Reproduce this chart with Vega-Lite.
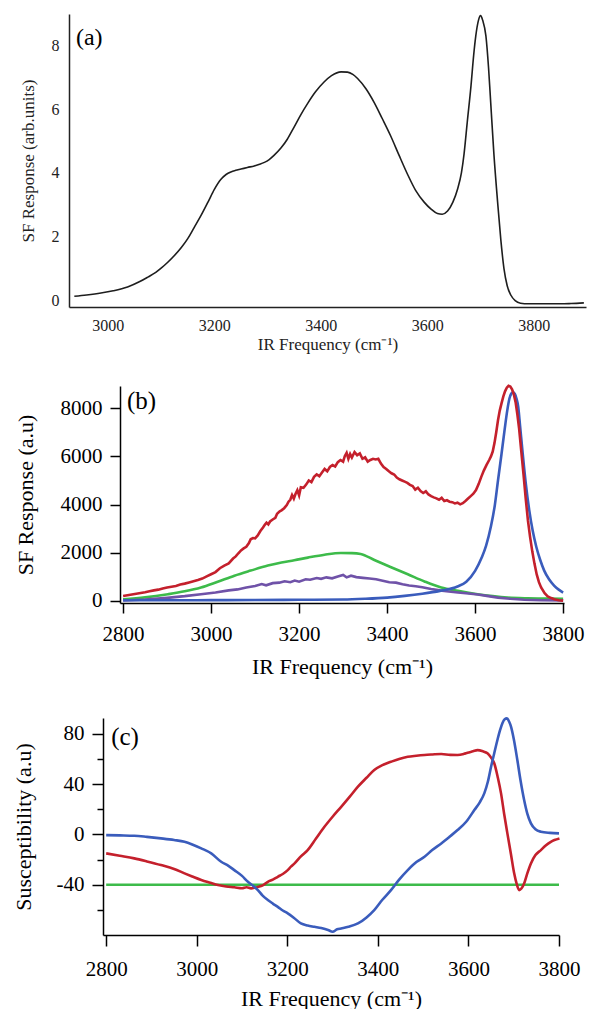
{
  "$schema": "https://vega.github.io/schema/vega-lite/v6.json",
  "padding": {"left": 0, "top": 12, "right": 0, "bottom": 0},
  "config": {
    "font": "Liberation Serif",
    "view": {"stroke": null},
    "axis": {"grid": false, "labelColor": "#000", "titleColor": "#000", "domainColor": "#000", "tickColor": "#000", "titleFontWeight": "normal", "labelFont": "Liberation Serif", "titleFont": "Liberation Serif", "domainWidth": 1.5, "tickWidth": 1.5, "labelFlush": false, "labelOverlap": false}
  },
  "datasets": {
    "a": [
      {"x": 2937, "y": 0.12}, {"x": 2960, "y": 0.16}, {"x": 2987, "y": 0.22}, {"x": 3010, "y": 0.29}, {"x": 3037, "y": 0.41}, {"x": 3060, "y": 0.58}, {"x": 3075, "y": 0.72}, {"x": 3090, "y": 0.87}, {"x": 3100, "y": 1.0}, {"x": 3112, "y": 1.18}, {"x": 3125, "y": 1.4}, {"x": 3138, "y": 1.65}, {"x": 3150, "y": 1.93}, {"x": 3162, "y": 2.28}, {"x": 3175, "y": 2.66}, {"x": 3188, "y": 3.08}, {"x": 3200, "y": 3.48}, {"x": 3212, "y": 3.79}, {"x": 3222, "y": 3.95}, {"x": 3231, "y": 4.03}, {"x": 3240, "y": 4.08}, {"x": 3250, "y": 4.12}, {"x": 3262, "y": 4.17}, {"x": 3275, "y": 4.22}, {"x": 3285, "y": 4.27}, {"x": 3294, "y": 4.33}, {"x": 3303, "y": 4.42}, {"x": 3312, "y": 4.55}, {"x": 3325, "y": 4.78}, {"x": 3337, "y": 5.06}, {"x": 3350, "y": 5.45}, {"x": 3362, "y": 5.82}, {"x": 3375, "y": 6.18}, {"x": 3390, "y": 6.55}, {"x": 3406, "y": 6.86}, {"x": 3420, "y": 7.06}, {"x": 3438, "y": 7.18}, {"x": 3450, "y": 7.17}, {"x": 3460, "y": 7.1}, {"x": 3469, "y": 6.97}, {"x": 3485, "y": 6.64}, {"x": 3500, "y": 6.22}, {"x": 3515, "y": 5.72}, {"x": 3531, "y": 5.17}, {"x": 3547, "y": 4.55}, {"x": 3563, "y": 3.95}, {"x": 3578, "y": 3.45}, {"x": 3594, "y": 3.08}, {"x": 3607, "y": 2.86}, {"x": 3619, "y": 2.72}, {"x": 3628, "y": 2.7}, {"x": 3638, "y": 2.8}, {"x": 3648, "y": 3.08}, {"x": 3657, "y": 3.5}, {"x": 3664, "y": 4.0}, {"x": 3669, "y": 4.6}, {"x": 3675, "y": 5.6}, {"x": 3682, "y": 6.74}, {"x": 3687, "y": 7.7}, {"x": 3691, "y": 8.31}, {"x": 3696, "y": 8.8}, {"x": 3700, "y": 8.95}, {"x": 3704, "y": 8.8}, {"x": 3710, "y": 8.31}, {"x": 3715, "y": 7.3}, {"x": 3719, "y": 6.22}, {"x": 3725, "y": 4.6}, {"x": 3732, "y": 3.08}, {"x": 3738, "y": 1.9}, {"x": 3744, "y": 0.98}, {"x": 3750, "y": 0.45}, {"x": 3757, "y": 0.15}, {"x": 3765, "y": -0.02}, {"x": 3775, "y": -0.1}, {"x": 3790, "y": -0.12}, {"x": 3820, "y": -0.12}, {"x": 3850, "y": -0.12}, {"x": 3870, "y": -0.11}, {"x": 3894, "y": -0.09}
    ],
    "b_red": [
      {"x": 2800, "y": 210}, {"x": 2810, "y": 240}, {"x": 2820, "y": 270}, {"x": 2830, "y": 300}, {"x": 2840, "y": 330}, {"x": 2850, "y": 360}, {"x": 2860, "y": 400}, {"x": 2870, "y": 440}, {"x": 2880, "y": 470}, {"x": 2890, "y": 520}, {"x": 2900, "y": 560}, {"x": 2910, "y": 590}, {"x": 2920, "y": 620}, {"x": 2930, "y": 680}, {"x": 2940, "y": 720}, {"x": 2950, "y": 770}, {"x": 2960, "y": 820}, {"x": 2970, "y": 870}, {"x": 2980, "y": 930}, {"x": 2990, "y": 1020}, {"x": 3000, "y": 1110}, {"x": 3010, "y": 1200}, {"x": 3020, "y": 1360}, {"x": 3030, "y": 1470}, {"x": 3040, "y": 1560}, {"x": 3050, "y": 1760}, {"x": 3056, "y": 1850}, {"x": 3062, "y": 1980}, {"x": 3068, "y": 2100}, {"x": 3074, "y": 2180}, {"x": 3080, "y": 2250}, {"x": 3086, "y": 2400}, {"x": 3090, "y": 2560}, {"x": 3095, "y": 2610}, {"x": 3100, "y": 2600}, {"x": 3106, "y": 2720}, {"x": 3112, "y": 2900}, {"x": 3118, "y": 3050}, {"x": 3122, "y": 3160}, {"x": 3126, "y": 3250}, {"x": 3130, "y": 3180}, {"x": 3134, "y": 3300}, {"x": 3140, "y": 3380}, {"x": 3146, "y": 3450}, {"x": 3150, "y": 3620}, {"x": 3156, "y": 3720}, {"x": 3160, "y": 3760}, {"x": 3166, "y": 3850}, {"x": 3172, "y": 3980}, {"x": 3176, "y": 4120}, {"x": 3180, "y": 4200}, {"x": 3184, "y": 4400}, {"x": 3188, "y": 4250}, {"x": 3192, "y": 4450}, {"x": 3196, "y": 4600}, {"x": 3200, "y": 4380}, {"x": 3204, "y": 4720}, {"x": 3210, "y": 4700}, {"x": 3216, "y": 4830}, {"x": 3222, "y": 5000}, {"x": 3228, "y": 4930}, {"x": 3234, "y": 5150}, {"x": 3240, "y": 5250}, {"x": 3246, "y": 5180}, {"x": 3252, "y": 5330}, {"x": 3258, "y": 5480}, {"x": 3264, "y": 5380}, {"x": 3270, "y": 5560}, {"x": 3276, "y": 5640}, {"x": 3282, "y": 5580}, {"x": 3288, "y": 5760}, {"x": 3294, "y": 5850}, {"x": 3300, "y": 5780}, {"x": 3304, "y": 6020}, {"x": 3308, "y": 6150}, {"x": 3312, "y": 5900}, {"x": 3316, "y": 6100}, {"x": 3320, "y": 5950}, {"x": 3326, "y": 6180}, {"x": 3332, "y": 6050}, {"x": 3338, "y": 6120}, {"x": 3344, "y": 5900}, {"x": 3350, "y": 5960}, {"x": 3356, "y": 5780}, {"x": 3362, "y": 5850}, {"x": 3368, "y": 5900}, {"x": 3374, "y": 5870}, {"x": 3380, "y": 5900}, {"x": 3386, "y": 5700}, {"x": 3392, "y": 5560}, {"x": 3398, "y": 5480}, {"x": 3404, "y": 5380}, {"x": 3410, "y": 5300}, {"x": 3416, "y": 5250}, {"x": 3422, "y": 5120}, {"x": 3428, "y": 5050}, {"x": 3434, "y": 5000}, {"x": 3440, "y": 4950}, {"x": 3446, "y": 4900}, {"x": 3452, "y": 4820}, {"x": 3458, "y": 4770}, {"x": 3464, "y": 4620}, {"x": 3470, "y": 4700}, {"x": 3476, "y": 4560}, {"x": 3482, "y": 4480}, {"x": 3488, "y": 4550}, {"x": 3494, "y": 4420}, {"x": 3500, "y": 4350}, {"x": 3506, "y": 4300}, {"x": 3512, "y": 4260}, {"x": 3518, "y": 4200}, {"x": 3524, "y": 4280}, {"x": 3530, "y": 4150}, {"x": 3536, "y": 4180}, {"x": 3542, "y": 4120}, {"x": 3548, "y": 4100}, {"x": 3554, "y": 4050}, {"x": 3560, "y": 4080}, {"x": 3566, "y": 4010}, {"x": 3572, "y": 4060}, {"x": 3578, "y": 4150}, {"x": 3584, "y": 4250}, {"x": 3590, "y": 4350}, {"x": 3596, "y": 4450}, {"x": 3602, "y": 4600}, {"x": 3608, "y": 4850}, {"x": 3614, "y": 5150}, {"x": 3620, "y": 5420}, {"x": 3626, "y": 5650}, {"x": 3632, "y": 5850}, {"x": 3636, "y": 6000}, {"x": 3640, "y": 6200}, {"x": 3644, "y": 6550}, {"x": 3648, "y": 7000}, {"x": 3652, "y": 7500}, {"x": 3656, "y": 7900}, {"x": 3660, "y": 8200}, {"x": 3664, "y": 8480}, {"x": 3668, "y": 8700}, {"x": 3672, "y": 8850}, {"x": 3676, "y": 8930}, {"x": 3680, "y": 8900}, {"x": 3684, "y": 8780}, {"x": 3688, "y": 8570}, {"x": 3692, "y": 8250}, {"x": 3696, "y": 7750}, {"x": 3700, "y": 7150}, {"x": 3705, "y": 6200}, {"x": 3710, "y": 5250}, {"x": 3715, "y": 4250}, {"x": 3720, "y": 3350}, {"x": 3725, "y": 2650}, {"x": 3730, "y": 2050}, {"x": 3735, "y": 1540}, {"x": 3740, "y": 1100}, {"x": 3745, "y": 780}, {"x": 3750, "y": 560}, {"x": 3758, "y": 320}, {"x": 3765, "y": 190}, {"x": 3773, "y": 120}, {"x": 3780, "y": 70}, {"x": 3790, "y": 30}, {"x": 3800, "y": 15}
    ],
    "b_blue": [
      {"x": 2800, "y": 30}, {"x": 2900, "y": 30}, {"x": 3000, "y": 35}, {"x": 3100, "y": 40}, {"x": 3200, "y": 50}, {"x": 3300, "y": 60}, {"x": 3350, "y": 90}, {"x": 3400, "y": 140}, {"x": 3440, "y": 210}, {"x": 3480, "y": 300}, {"x": 3520, "y": 420}, {"x": 3560, "y": 600}, {"x": 3580, "y": 800}, {"x": 3600, "y": 1250}, {"x": 3615, "y": 1800}, {"x": 3625, "y": 2300}, {"x": 3636, "y": 3100}, {"x": 3645, "y": 4000}, {"x": 3652, "y": 5000}, {"x": 3660, "y": 6100}, {"x": 3667, "y": 7100}, {"x": 3673, "y": 7900}, {"x": 3678, "y": 8400}, {"x": 3682, "y": 8600}, {"x": 3686, "y": 8660}, {"x": 3690, "y": 8600}, {"x": 3694, "y": 8400}, {"x": 3698, "y": 8050}, {"x": 3702, "y": 7300}, {"x": 3708, "y": 6150}, {"x": 3715, "y": 4900}, {"x": 3723, "y": 3770}, {"x": 3731, "y": 2900}, {"x": 3739, "y": 2250}, {"x": 3748, "y": 1700}, {"x": 3757, "y": 1260}, {"x": 3768, "y": 900}, {"x": 3780, "y": 630}, {"x": 3790, "y": 470}, {"x": 3800, "y": 350}
    ],
    "b_green": [
      {"x": 2800, "y": 70}, {"x": 2850, "y": 150}, {"x": 2902, "y": 280}, {"x": 2940, "y": 400}, {"x": 2977, "y": 560}, {"x": 3015, "y": 800}, {"x": 3053, "y": 1050}, {"x": 3090, "y": 1260}, {"x": 3129, "y": 1470}, {"x": 3160, "y": 1600}, {"x": 3189, "y": 1690}, {"x": 3220, "y": 1800}, {"x": 3258, "y": 1920}, {"x": 3295, "y": 1990}, {"x": 3320, "y": 1985}, {"x": 3340, "y": 1950}, {"x": 3371, "y": 1700}, {"x": 3409, "y": 1400}, {"x": 3447, "y": 1110}, {"x": 3485, "y": 810}, {"x": 3523, "y": 560}, {"x": 3561, "y": 420}, {"x": 3606, "y": 280}, {"x": 3640, "y": 200}, {"x": 3674, "y": 140}, {"x": 3720, "y": 110}, {"x": 3760, "y": 100}, {"x": 3800, "y": 95}
    ],
    "b_purple": [
      {"x": 2800, "y": 20}, {"x": 2850, "y": 60}, {"x": 2900, "y": 130}, {"x": 2940, "y": 200}, {"x": 2977, "y": 280}, {"x": 3010, "y": 350}, {"x": 3040, "y": 440}, {"x": 3060, "y": 480}, {"x": 3080, "y": 560}, {"x": 3100, "y": 620}, {"x": 3115, "y": 700}, {"x": 3125, "y": 650}, {"x": 3140, "y": 740}, {"x": 3155, "y": 760}, {"x": 3167, "y": 820}, {"x": 3180, "y": 780}, {"x": 3190, "y": 850}, {"x": 3200, "y": 800}, {"x": 3215, "y": 900}, {"x": 3225, "y": 880}, {"x": 3240, "y": 950}, {"x": 3250, "y": 920}, {"x": 3262, "y": 980}, {"x": 3275, "y": 940}, {"x": 3288, "y": 1020}, {"x": 3300, "y": 1080}, {"x": 3308, "y": 980}, {"x": 3318, "y": 1050}, {"x": 3330, "y": 990}, {"x": 3345, "y": 960}, {"x": 3360, "y": 930}, {"x": 3375, "y": 900}, {"x": 3390, "y": 840}, {"x": 3405, "y": 780}, {"x": 3420, "y": 760}, {"x": 3435, "y": 690}, {"x": 3450, "y": 640}, {"x": 3465, "y": 610}, {"x": 3480, "y": 570}, {"x": 3500, "y": 500}, {"x": 3520, "y": 440}, {"x": 3540, "y": 390}, {"x": 3561, "y": 350}, {"x": 3585, "y": 310}, {"x": 3606, "y": 270}, {"x": 3630, "y": 200}, {"x": 3652, "y": 140}, {"x": 3680, "y": 90}, {"x": 3712, "y": 50}, {"x": 3750, "y": 30}, {"x": 3800, "y": 25}
    ],
    "c_blue": [
      {"x": 2800, "y": -0.6}, {"x": 2830, "y": -0.8}, {"x": 2862, "y": -1.1}, {"x": 2890, "y": -2.0}, {"x": 2921, "y": -3.2}, {"x": 2950, "y": -4.5}, {"x": 2973, "y": -5.9}, {"x": 2990, "y": -8.0}, {"x": 3010, "y": -11.1}, {"x": 3032, "y": -15.1}, {"x": 3054, "y": -21.8}, {"x": 3070, "y": -25.0}, {"x": 3083, "y": -28.4}, {"x": 3100, "y": -33.0}, {"x": 3113, "y": -37.7}, {"x": 3125, "y": -41.0}, {"x": 3135, "y": -44.3}, {"x": 3145, "y": -48.5}, {"x": 3157, "y": -52.2}, {"x": 3168, "y": -55.0}, {"x": 3179, "y": -57.6}, {"x": 3190, "y": -60.5}, {"x": 3201, "y": -62.8}, {"x": 3215, "y": -66.5}, {"x": 3230, "y": -70.8}, {"x": 3245, "y": -72.5}, {"x": 3260, "y": -73.5}, {"x": 3275, "y": -74.5}, {"x": 3290, "y": -76.0}, {"x": 3300, "y": -77.4}, {"x": 3310, "y": -75.5}, {"x": 3319, "y": -74.8}, {"x": 3335, "y": -73.5}, {"x": 3356, "y": -70.8}, {"x": 3375, "y": -66.0}, {"x": 3392, "y": -60.2}, {"x": 3410, "y": -52.0}, {"x": 3429, "y": -44.3}, {"x": 3447, "y": -36.0}, {"x": 3466, "y": -28.4}, {"x": 3485, "y": -22.0}, {"x": 3503, "y": -17.8}, {"x": 3520, "y": -12.5}, {"x": 3540, "y": -7.2}, {"x": 3558, "y": -2.0}, {"x": 3576, "y": 3.4}, {"x": 3595, "y": 10.0}, {"x": 3613, "y": 19.3}, {"x": 3625, "y": 25.5}, {"x": 3635, "y": 32.6}, {"x": 3643, "y": 42.0}, {"x": 3650, "y": 53.8}, {"x": 3657, "y": 64.5}, {"x": 3664, "y": 75.0}, {"x": 3670, "y": 83.0}, {"x": 3675, "y": 88.3}, {"x": 3680, "y": 91.5}, {"x": 3685, "y": 92.2}, {"x": 3690, "y": 89.5}, {"x": 3694, "y": 85.6}, {"x": 3700, "y": 76.0}, {"x": 3708, "y": 59.1}, {"x": 3715, "y": 43.0}, {"x": 3723, "y": 27.3}, {"x": 3730, "y": 16.5}, {"x": 3738, "y": 8.7}, {"x": 3748, "y": 4.0}, {"x": 3760, "y": 2.1}, {"x": 3780, "y": 1.2}, {"x": 3800, "y": 0.8}
    ],
    "c_red": [
      {"x": 2800, "y": -15.1}, {"x": 2830, "y": -17.0}, {"x": 2862, "y": -19.1}, {"x": 2890, "y": -21.5}, {"x": 2921, "y": -24.4}, {"x": 2950, "y": -27.5}, {"x": 2973, "y": -31.0}, {"x": 2990, "y": -33.5}, {"x": 3010, "y": -36.3}, {"x": 3030, "y": -38.5}, {"x": 3047, "y": -40.3}, {"x": 3065, "y": -41.5}, {"x": 3083, "y": -42.1}, {"x": 3100, "y": -42.8}, {"x": 3110, "y": -42.0}, {"x": 3120, "y": -42.9}, {"x": 3130, "y": -42.2}, {"x": 3142, "y": -41.1}, {"x": 3150, "y": -39.5}, {"x": 3157, "y": -37.7}, {"x": 3168, "y": -36.0}, {"x": 3179, "y": -33.7}, {"x": 3190, "y": -31.5}, {"x": 3201, "y": -28.4}, {"x": 3208, "y": -25.7}, {"x": 3216, "y": -23.1}, {"x": 3230, "y": -17.5}, {"x": 3245, "y": -12.5}, {"x": 3263, "y": -3.5}, {"x": 3282, "y": 6.0}, {"x": 3300, "y": 14.0}, {"x": 3319, "y": 21.9}, {"x": 3338, "y": 30.0}, {"x": 3356, "y": 37.9}, {"x": 3375, "y": 45.0}, {"x": 3392, "y": 51.1}, {"x": 3410, "y": 55.0}, {"x": 3429, "y": 57.7}, {"x": 3447, "y": 60.0}, {"x": 3466, "y": 61.7}, {"x": 3485, "y": 62.5}, {"x": 3503, "y": 63.1}, {"x": 3520, "y": 63.5}, {"x": 3540, "y": 63.9}, {"x": 3560, "y": 63.2}, {"x": 3576, "y": 63.1}, {"x": 3590, "y": 64.0}, {"x": 3598, "y": 64.9}, {"x": 3610, "y": 66.0}, {"x": 3620, "y": 67.0}, {"x": 3632, "y": 66.0}, {"x": 3642, "y": 64.4}, {"x": 3650, "y": 61.0}, {"x": 3657, "y": 56.5}, {"x": 3665, "y": 45.0}, {"x": 3672, "y": 32.6}, {"x": 3679, "y": 16.0}, {"x": 3686, "y": 0.8}, {"x": 3694, "y": -16.0}, {"x": 3701, "y": -31.0}, {"x": 3707, "y": -40.0}, {"x": 3712, "y": -44.3}, {"x": 3717, "y": -43.0}, {"x": 3723, "y": -39.0}, {"x": 3730, "y": -31.0}, {"x": 3738, "y": -23.1}, {"x": 3748, "y": -16.5}, {"x": 3760, "y": -12.5}, {"x": 3770, "y": -9.0}, {"x": 3782, "y": -5.9}, {"x": 3790, "y": -4.5}, {"x": 3801, "y": -3.2}
    ],
    "c_green": [{"x": 2800, "y": -40}, {"x": 3800, "y": -40}],
    "lab_a": [{"x": 2940, "y": 8.26, "t": "(a)"}],
    "lab_b": [{"x": 2809, "y": 8293, "t": "(b)"}],
    "lab_c": [{"x": 2811, "y": 77.4, "t": "(c)"}],
    "none": []
  },
  "spacing": 28,
  "vconcat": [
    {
      "spacing": 0,
      "hconcat": [
        {"width": 19, "height": 1, "data": {"name": "none"}, "mark": "point"},
        {
          "width": 517,
          "height": 293,
          "encoding": {
            "x": {"field": "x", "type": "quantitative", "scale": {"domain": [2927, 3898], "nice": false, "zero": false},
              "axis": {"title": "IR Frequency (cm⁻¹)", "values": [3000, 3200, 3400, 3600, 3800], "format": "d", "ticks": false, "labelPadding": 10, "labelFontSize": 16, "titleFontSize": 17, "titlePadding": 3, "labelFont": "Liberation Serif", "titleFont": "Liberation Serif", "domainColor": "#222", "labelColor": "#222", "titleColor": "#222"}},
            "y": {"field": "y", "type": "quantitative", "scale": {"domain": [-0.22, 9.0], "nice": false, "zero": false},
              "axis": {"title": "SF Response (arb.units)", "values": [0, 2, 4, 6, 8], "format": "d", "ticks": false, "labelPadding": 10, "labelFontSize": 16, "titleFontSize": 17, "titlePadding": 14, "labelFont": "Liberation Serif", "titleFont": "Liberation Serif", "domainColor": "#222", "labelColor": "#222", "titleColor": "#222"}}
          },
          "layer": [
            {"data": {"name": "a"}, "mark": {"type": "line", "color": "#1e1e1e", "strokeWidth": 1.6, "interpolate": "monotone"}},
            {"data": {"name": "lab_a"}, "mark": {"type": "text", "align": "left", "baseline": "middle", "fontSize": 24, "font": "Liberation Serif", "color": "#000"}, "encoding": {"text": {"field": "t"}}}
          ]
        }
      ]
    },
    {
      "spacing": 36,
      "vconcat": [
        {
          "spacing": 0,
          "hconcat": [
            {"width": 14, "height": 1, "data": {"name": "none"}, "mark": "point"},
            {
              "width": 444,
              "height": 217,
              "encoding": {
                "x": {"field": "x", "type": "quantitative", "scale": {"domain": [2793, 3802], "nice": false, "zero": false},
                  "axis": {"title": "IR Frequency (cm⁻¹)", "values": [2800, 3000, 3200, 3400, 3600, 3800], "format": "d", "tickSize": 10, "labelPadding": 10, "labelFontSize": 21, "titleFontSize": 22, "titlePadding": 12, "labelFont": "Liberation Serif", "titleFont": "Liberation Serif"}},
                "y": {"field": "y", "type": "quantitative", "scale": {"domain": [-84, 8921], "nice": false, "zero": false},
                  "axis": {"title": "SF Response (a.u)", "values": [0, 2000, 4000, 6000, 8000], "format": "d", "tickSize": 10, "labelPadding": 8, "labelFontSize": 21, "titleFontSize": 22, "titlePadding": 23, "labelFont": "Liberation Serif", "titleFont": "Liberation Serif"}}
              },
              "layer": [
                {"data": {"name": "b_green"}, "mark": {"type": "line", "color": "#3dbb4a", "strokeWidth": 2.6, "interpolate": "monotone"}},
                {"data": {"name": "b_purple"}, "mark": {"type": "line", "color": "#6f52a8", "strokeWidth": 2.6}},
                {"data": {"name": "b_blue"}, "mark": {"type": "line", "color": "#3a5cbc", "strokeWidth": 2.6, "interpolate": "monotone"}},
                {"data": {"name": "b_red"}, "mark": {"type": "line", "color": "#c4202c", "strokeWidth": 2.6}},
                {"data": {"name": "lab_b"}, "mark": {"type": "text", "align": "left", "baseline": "middle", "fontSize": 25, "font": "Liberation Serif", "color": "#000"}, "encoding": {"text": {"field": "t"}}}
              ]
            }
          ]
        },
        {
          "spacing": 0,
          "hconcat": [
            {"width": 12, "height": 1, "data": {"name": "none"}, "mark": "point"},
            {
              "width": 456,
              "height": 217,
              "encoding": {
                "x": {"field": "x", "type": "quantitative", "scale": {"domain": [2793, 3800], "nice": false, "zero": false},
                  "axis": {"title": "IR Frequency (cm⁻¹)", "values": [2800, 3000, 3200, 3400, 3600, 3800], "format": "d", "tickSize": 11, "labelPadding": 12, "labelFontSize": 21, "titleFontSize": 22, "titlePadding": 9, "labelFont": "Liberation Serif", "titleFont": "Liberation Serif"}},
                "y": {"field": "y", "type": "quantitative", "scale": {"domain": [-80, 92.5], "nice": false, "zero": false},
                  "axis": {"title": "Susceptibility (a.u)", "values": [-60, -40, -20, 0, 20, 40, 60, 80], "labelExpr": "datum.value % 40 === 0 ? '' + datum.value : ''", "tickSize": {"condition": {"test": "datum.value % 40 === 0", "value": 11}, "value": 6}, "labelPadding": 8, "labelFontSize": 21, "titleFontSize": 22, "titlePadding": 21, "labelFont": "Liberation Serif", "titleFont": "Liberation Serif"}}
              },
              "layer": [
                {"data": {"name": "c_green"}, "mark": {"type": "line", "color": "#3dbb4a", "strokeWidth": 2.6}},
                {"data": {"name": "c_red"}, "mark": {"type": "line", "color": "#c4202c", "strokeWidth": 2.6, "interpolate": "monotone"}},
                {"data": {"name": "c_blue"}, "mark": {"type": "line", "color": "#3a5cbc", "strokeWidth": 2.6, "interpolate": "monotone"}},
                {"data": {"name": "lab_c"}, "mark": {"type": "text", "align": "left", "baseline": "middle", "fontSize": 25, "font": "Liberation Serif", "color": "#000"}, "encoding": {"text": {"field": "t"}}}
              ]
            }
          ]
        }
      ]
    }
  ]
}
